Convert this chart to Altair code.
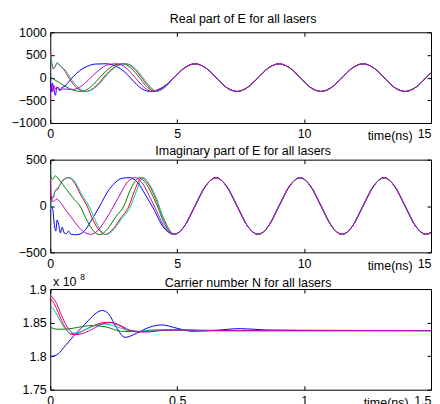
import altair as alt
import pandas as pd

# ---------------- data ----------------
LASERS = ["blue", "green", "red", "cyan", "magenta"]
COLORS = ["#0000ff", "#008000", "#ff0000", "#00bfbf", "#bf00bf"]

# shared converged tails (time in ns)
tail_t = [4.88, 5.29, 5.70, 6.12, 6.53, 6.94, 7.36, 7.77, 8.19, 8.60, 9.01, 9.43, 9.84,
          10.25, 10.67, 11.08, 11.50, 11.91, 12.32, 12.74, 13.15, 13.56, 13.98, 14.39, 14.81, 15.0]
tail_re = [0, 216, 305, 216, 0, -216, -305, -216, 0, 216, 305, 216, 0,
           -216, -305, -216, 0, 216, 305, 216, 0, -216, -305, -216, 0, 108]
tail_im = [-305, -216, 0, 216, 305, 216, 0, -216, -305, -216, 0, 216, 305,
           216, 0, -216, -305, -216, 0, 216, 305, 216, 0, -216, -305, -285]

# Real part, early transients
re_blue_t = [0, 0.03, 0.08, 0.14, 0.2, 0.26, 0.32, 0.38, 0.45, 0.55, 0.7, 0.9, 1.15, 1.45, 1.8, 2.2, 2.6, 2.9, 3.15, 3.4, 3.65, 3.95, 4.2, 4.46]
re_blue_v = [-30, -320, -120, -250, -390, -230, -220, -290, -220, -200, -110, 20, 150, 250, 300, 306, 250, 140, 0, -150, -260, -305, -275, -200]
re_green_t = [0, 0.05, 0.15, 0.3, 0.5, 0.75, 1.0, 1.2, 1.45, 1.7, 1.95, 2.2, 2.5, 2.85, 3.2, 3.5, 3.75, 3.95, 4.1, 4.46]
re_green_v = [20, 0, -40, -90, -160, -240, -290, -302, -260, -150, 0, 150, 270, 306, 200, 10, -170, -270, -305, -225]
re_red_t = [0, 0.03, 0.07, 0.13, 0.2, 0.28, 0.36, 0.45, 0.55, 0.72, 0.9, 1.1, 1.4, 1.7, 1.95, 2.2, 2.55, 2.95, 3.3, 3.6, 3.85, 4.05, 4.15, 4.46]
re_red_v = [620, 450, 300, 190, 250, 330, 270, 230, 170, 10, -140, -250, -305, -230, -100, 70, 240, 306, 200, 0, -180, -280, -300, -235]
re_cyan_t = [0, 0.03, 0.07, 0.13, 0.2, 0.28, 0.36, 0.45, 0.58, 0.78, 0.95, 1.15, 1.45, 1.75, 2.0, 2.25, 2.6, 3.0, 3.35, 3.65, 3.9, 4.1, 4.2, 4.46]
re_cyan_v = [520, 400, 280, 200, 260, 330, 280, 240, 170, 10, -130, -240, -305, -230, -100, 70, 240, 306, 200, 0, -180, -280, -300, -240]
re_mag_t = [0, 0.02, 0.06, 0.1, 0.15, 0.2, 0.27, 0.35, 0.5, 0.7, 0.9, 1.1, 1.35, 1.65, 1.95, 2.25, 2.6, 2.95, 3.3, 3.6, 3.8, 4.0, 4.2, 4.46]
re_mag_v = [-500, -200, -140, -310, -180, -260, -200, -280, -250, -255, -260, -230, -130, 30, 180, 280, 306, 230, 30, -160, -260, -305, -280, -210]

# Imaginary part, early transients
im_blue_t = [0, 0.05, 0.1, 0.16, 0.22, 0.27, 0.33, 0.4, 0.47, 0.55, 0.63, 0.72, 0.82, 1.0, 1.2, 1.4, 1.65, 1.95, 2.25, 2.55, 2.85, 3.15, 3.45, 3.75, 4.05, 4.46]
im_blue_v = [-50, -10, -40, -200, -270, -150, -200, -290, -230, -290, -300, -270, -305, -310, -300, -250, -140, 0, 150, 250, 300, 306, 250, 120, -20, -230]
im_green_t = [0, 0.04, 0.1, 0.2, 0.3, 0.5, 0.75, 0.95, 1.17, 1.4, 1.65, 1.95, 2.25, 2.6, 2.9, 3.15, 3.5, 3.8, 4.05, 4.25, 4.46]
im_green_v = [370, 300, 290, 325, 300, 230, 140, 70, 0, -130, -250, -310, -250, -110, 0, 170, 305, 230, 100, -20, -170]
im_red_t = [0, 0.06, 0.12, 0.2, 0.28, 0.38, 0.5, 0.72, 0.95, 1.2, 1.45, 1.7, 1.95, 2.15, 2.4, 2.75, 3.1, 3.3, 3.6, 3.9, 4.15, 4.46]
im_red_v = [20, 100, 90, 170, 175, 230, 280, 306, 250, 120, 0, -160, -270, -308, -270, -140, 0, 150, 305, 220, 80, -130]
im_cyan_t = [0, 0.06, 0.12, 0.2, 0.3, 0.42, 0.55, 0.78, 1.0, 1.25, 1.52, 1.78, 2.0, 2.21, 2.45, 2.8, 3.17, 3.38, 3.66, 3.95, 4.2, 4.46]
im_cyan_v = [-40, 60, 110, 160, 200, 240, 285, 306, 250, 120, 0, -160, -270, -308, -270, -140, 0, 150, 305, 215, 70, -140]
im_mag_t = [0, 0.02, 0.06, 0.13, 0.25, 0.4, 0.6, 0.85, 1.1, 1.35, 1.6, 1.85, 2.15, 2.5, 2.8, 3.05, 3.35, 3.65, 3.9, 4.15, 4.46]
im_mag_v = [300, 180, 60, 50, 75, 40, -40, -130, -220, -285, -305, -270, -160, 0, 150, 260, 305, 240, 110, -30, -210]

# Carrier number N (x 1e8)
n_blue_t = [0, 0.03, 0.06, 0.09, 0.12, 0.15, 0.18, 0.205, 0.23, 0.26, 0.295, 0.34, 0.39, 0.44, 0.5, 0.56, 0.65, 0.75, 0.85, 1.0, 1.5]
n_blue_v = [1.799, 1.803, 1.816, 1.829, 1.841, 1.853, 1.864, 1.868, 1.863, 1.843, 1.828, 1.834, 1.843, 1.8465, 1.8415, 1.837, 1.8385, 1.841, 1.839, 1.8385, 1.838]
n_green_t = [0, 0.03, 0.07, 0.11, 0.165, 0.22, 0.28, 0.34, 0.41, 0.5, 0.6, 0.8, 1.5]
n_green_v = [1.843, 1.840, 1.8405, 1.843, 1.8456, 1.8435, 1.837, 1.8365, 1.839, 1.839, 1.838, 1.838, 1.838]
n_red_t = [0, 0.02, 0.04, 0.06, 0.085, 0.11, 0.14, 0.18, 0.228, 0.27, 0.31, 0.36, 0.42, 0.5, 0.6, 0.8, 1.5]
n_red_v = [1.886, 1.875, 1.857, 1.842, 1.832, 1.834, 1.840, 1.847, 1.8505, 1.846, 1.838, 1.836, 1.838, 1.8395, 1.838, 1.838, 1.838]
n_cyan_t = [0, 0.02, 0.04, 0.06, 0.08, 0.11, 0.14, 0.18, 0.216, 0.26, 0.3, 0.35, 0.42, 0.5, 0.6, 0.8, 1.5]
n_cyan_v = [1.875, 1.866, 1.852, 1.840, 1.834, 1.835, 1.840, 1.846, 1.848, 1.844, 1.839, 1.837, 1.838, 1.839, 1.838, 1.838, 1.838]
n_mag_t = [0, 0.02, 0.04, 0.06, 0.08, 0.105, 0.13, 0.17, 0.205, 0.241, 0.28, 0.32, 0.38, 0.45, 0.55, 0.7, 1.5]
n_mag_v = [1.890, 1.882, 1.865, 1.848, 1.837, 1.832, 1.834, 1.841, 1.848, 1.850, 1.845, 1.838, 1.836, 1.8385, 1.839, 1.838, 1.838]

E_XTICKS = [0, 5, 10, 15]
N_XTICKS = [0, 0.5, 1, 1.5]
RE_YTICKS = [-1000, -500, 0, 500, 1000]
IM_YTICKS = [-500, 0, 500]
N_YTICKS = [1.75, 1.8, 1.85, 1.9]


def make_df(series):
    rows = []
    for name, ts, vs in series:
        for t, v in zip(ts, vs):
            rows.append({"laser": name, "t": t, "v": v})
    return pd.DataFrame(rows)


df_re = make_df([
    ("blue", re_blue_t + tail_t, re_blue_v + tail_re),
    ("green", re_green_t + tail_t, re_green_v + tail_re),
    ("red", re_red_t + tail_t, re_red_v + tail_re),
    ("cyan", re_cyan_t + tail_t, re_cyan_v + tail_re),
    ("magenta", re_mag_t + tail_t, re_mag_v + tail_re),
])
df_im = make_df([
    ("blue", im_blue_t + tail_t, im_blue_v + tail_im),
    ("green", im_green_t + tail_t, im_green_v + tail_im),
    ("red", im_red_t + tail_t, im_red_v + tail_im),
    ("cyan", im_cyan_t + tail_t, im_cyan_v + tail_im),
    ("magenta", im_mag_t + tail_t, im_mag_v + tail_im),
])
df_n = make_df([
    ("blue", n_blue_t, n_blue_v),
    ("green", n_green_t, n_green_v),
    ("red", n_red_t, n_red_v),
    ("cyan", n_cyan_t, n_cyan_v),
    ("magenta", n_mag_t, n_mag_v),
])

FONT = "Liberation Sans"
FS = 12.5
W = 382


def panel(df, xdom, xticks, xfmt, ydom, yticks, yfmt, h, title, title_x, title_y,
          xt_x, xt_y, ytitle=None, sup=None):
    xs = alt.Scale(domain=xdom, nice=False, zero=False)
    ys = alt.Scale(domain=ydom, nice=False, zero=False)
    last = xticks[-1]
    xaxis = alt.Axis(values=xticks, format=xfmt, orient="bottom", offset=-4, tickSize=4,
                     domain=False, grid=False, labelFlush=False, labelPadding=5,
                     labelOverlap=False,
                     labelAlign={"condition": {"test": f"datum.value >= {last}", "value": "right"},
                                 "value": "center"},
                     title="time(ns)", titleX=xt_x, titleY=xt_y,
                     titleAlign="right", titleBaseline="alphabetic")
    if ytitle:
        yaxis = alt.Axis(values=yticks, format=yfmt, orient="left", offset=-4, tickSize=4,
                         domain=False, grid=False, labelPadding=4, labelOverlap=False,
                         title=ytitle[0], titleAngle=0, titleAlign="left",
                         titleBaseline="alphabetic", titleX=ytitle[1], titleY=ytitle[2])
    else:
        yaxis = alt.Axis(values=yticks, format=yfmt, orient="left", offset=-4, tickSize=4,
                         domain=False, grid=False, labelPadding=4, labelOverlap=False,
                         title=None)
    # top axis carries the panel title
    taxis = alt.Axis(values=xticks, orient="top", offset=-4, tickSize=4, labels=False,
                     domain=False, grid=False, title=title, titleAlign="center",
                     titleBaseline="alphabetic", titleX=title_x, titleY=title_y)
    if sup:
        raxis = alt.Axis(values=yticks, orient="right", offset=-4, tickSize=4, labels=False,
                         domain=False, grid=False, title=sup[0], titleFontSize=8.5,
                         titleAngle=0, titleAlign="left", titleBaseline="alphabetic",
                         titleX=sup[1], titleY=sup[2])
    else:
        raxis = alt.Axis(values=yticks, orient="right", offset=-4, tickSize=4, labels=False,
                         domain=False, grid=False, title=None)

    lines = alt.Chart(df).mark_line(strokeWidth=1, interpolate="monotone", clip=True).encode(
        x=alt.X("t:Q", scale=xs, axis=xaxis),
        y=alt.Y("v:Q", scale=ys, axis=yaxis),
        color=alt.Color("laser:N", scale=alt.Scale(domain=LASERS, range=COLORS), legend=None),
        detail="laser:N",
    )
    frame = alt.Chart(df).mark_point(opacity=0, size=0, filled=True, strokeWidth=0).encode(
        x=alt.X("t:Q", scale=xs, axis=taxis),
        y=alt.Y("v:Q", scale=ys, axis=raxis),
    )
    return alt.layer(lines, frame).resolve_scale(x="independent", y="independent").properties(
        width=W, height=h,
    )


p1 = panel(df_re, [0, 15], E_XTICKS, "d", [-1000, 1000], RE_YTICKS, "d", 91,
           "Real part of E for all lasers", 193, -14, 363, 21)
p2 = panel(df_im, [0, 15], E_XTICKS, "d", [-500, 500], IM_YTICKS, "d", 93,
           "Imaginary part of E for all lasers", 193, -9.4, 363, 21)
p3 = panel(df_n, [0, 1.5], N_XTICKS, ".1~f", [1.75, 1.9], N_YTICKS, ".2~f", 101,
           "Carrier number N for all lasers", 198, -6.3, 359, 21,
           ytitle=("x 10", -1.8, -3.3), sup=("8", -348.5, -10))

chart = alt.vconcat(p1, p2, p3, spacing=36.8, bounds="flush").properties(
    padding={"left": 2.4, "top": 2.7, "right": 0, "bottom": 0}
).configure_view(
    stroke="black", strokeWidth=1
).configure_axis(
    labelFont=FONT, labelFontSize=FS, labelColor="black", tickColor="black", tickWidth=1,
    titleFont=FONT, titleFontSize=FS, titleColor="black", titleFontWeight="normal",
)

chart.save("out.html", embed_options={"renderer": "svg", "actions": False})
